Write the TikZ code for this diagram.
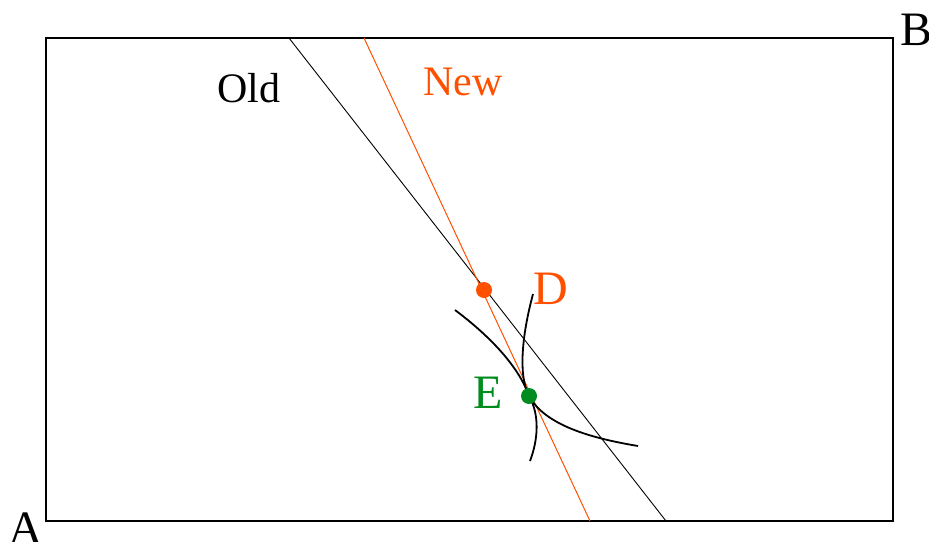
\documentclass[tikz,border=0pt]{standalone}
\usepackage{fontspec}
\setmainfont{Liberation Serif}
\definecolor{neworange}{RGB}{255,80,0}
\definecolor{ptgreen}{RGB}{0,140,30}

\begin{document}
\begin{tikzpicture}[
    x=1pt, y=-1pt,
    frame/.style={line width=1.8pt},
    oldline/.style={line width=0.9pt},
    newline/.style={line width=1pt, neworange},
    curve/.style={line width=1.8pt},
    dot/.style={circle, inner sep=0pt, minimum size=16pt},
    big/.style={font=\fontsize{48}{54}\selectfont, anchor=base, inner sep=0pt},
    small/.style={font=\fontsize{42}{48}\selectfont, anchor=base, inner sep=0pt},
  ]
  \useasboundingbox (0,0) rectangle (929,541);

  % Caixa
  \coordinate (a) at (46,521);
  \coordinate (b) at (893,38);
  \draw[frame] (a) rectangle (b);
  \node[big] (labA) at (26,544) {A};
  \node[big] (labB) at (916,45) {B};

  % Retas
  \coordinate (oldtop) at (289,38);
  \coordinate (oldbot) at (666,521);
  \coordinate (newtop) at (364,38);
  \coordinate (newbot) at (590,521);
  \draw[oldline] (oldtop) -- (oldbot);
  \draw[newline] (newtop) -- (newbot);
  \node[small] (labold) at (249,102) {Old};
  \node[small, neworange] (labnew) at (463,95) {New};

  % Curvas
  \coordinate (e) at (529,396);
  \draw[curve] (455,310) .. controls (495,340) and (520,370) .. (e)
    .. controls (545,425) and (590,438) .. (638,446);
  \draw[curve] (533,294) .. controls (522,335) and (518,375) .. (e)
    .. controls (540,415) and (538,440) .. (530,461);

  % Pontos
  \node[dot, fill=neworange] (D) at (484,290) {};
  \node[big, neworange] (labD) at (551,304) {D};
  \node[dot, fill=ptgreen] (E) at (e) {};
  \node[big, ptgreen] (labE) at (488,408) {E};
\end{tikzpicture}
\end{document}
